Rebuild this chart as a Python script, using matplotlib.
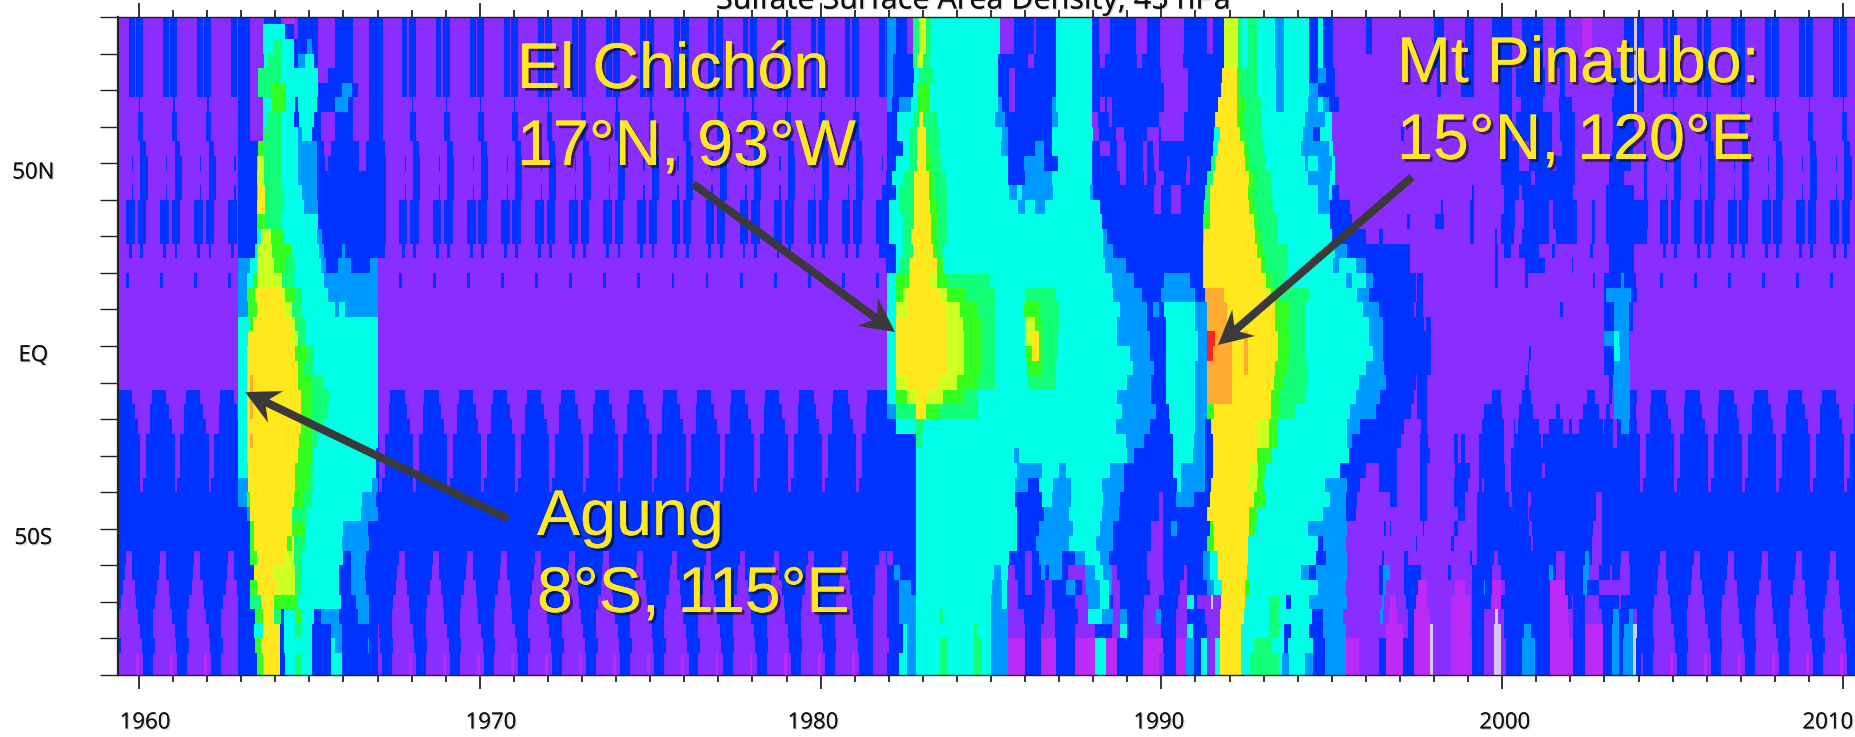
import numpy as np
import matplotlib
matplotlib.use("Agg")
import matplotlib.pyplot as plt
from matplotlib.colors import ListedColormap, BoundaryNorm
from matplotlib.patches import Polygon
from matplotlib.transforms import IdentityTransform
import matplotlib.patheffects as pe

V, B, A, C, S, G, L, Y, O, R, M, W = range(12)
LEVEL_COLORS = ["#8A2EFF", "#0033FF", "#0099FF", "#00FFE6", "#14FF78", "#33FF22",
                "#CCFF22", "#FFE81E", "#FFAA30", "#FF2222", "#BB2BF5", "#D8C8F0"]

YEAR_TICKS = list(range(1960, 2011))
YEAR_LABELS = [1960, 1970, 1980, 1990, 2000, 2010]
YEAR_LABEL_X = [1960.18, 1970.33, 1979.78, 1989.93, 2000.08, 2009.56]
LAT_TICKS = list(range(-90, 91, 10))
LAT_LABELS = {50: "50N", 0: "EQ", -50: "50S"}
LAT_EDGES = [90] + list(range(88, -89, -4)) + [-90]

# Seasonal cycle read from quiet years: base level, then (start, end, level) in fractions of a year
NT1 = [(-.30, -.13, B), (-.08, .14, B)]
NT2 = [(-.22, -.15, B), (.04, .24, B)]
NT3 = [(-.37, -.13, B), (-.04, .22, B)]
ST1 = [(-.60, .13, V), (-.10, .02, M)]
SEASON = [(V, NT1)] * 6 + [
    (V, [(0, .05, B)]), (V, [(-.03, .14, B)]), (V, [(-.03, .14, B)]), (V, [(.06, .22, B)]),
    (V, NT2), (V, [(.04, .24, B)]), (V, NT2), (V, NT3), (V, NT3), (V, NT3),
    (V, [(-.30, -.20, B), (.04, .14, B)]), (V, []), (V, [(-.37, -.30, B)]),
    (V, []), (V, []), (V, []), (V, []), (V, []), (V, []), (V, []),
    (B, [(-.20, .38, V)]), (B, [(-.13, .33, V)]), (B, [(-.06, .35, V)]),
    (B, [(.06, .22, V)]), (B, [(.06, .22, V)]), (B, [(.06, .22, V)]), (B, [(.06, .14, V)]),
    (B, []), (B, []), (B, []), (B, []),
    (B, [(-.37, -.20, V)]), (B, [(-.40, -.20, V)]), (B, [(-.47, -.13, V)]), (B, [(-.55, -.10, V)]),
    (B, [(-.60, -.04, V)]), (B, [(-.60, .04, V)]), (B, [(-.55, .10, V)]), (B, ST1), (B, ST1),
]

# Runs per latitude row (north to south): edge, level, edge, level, ..., edge; years since 1900
AGUNG = [
 [62.91,B,63.27,V,63.67,B,64.16,V,64.27,M,64.6,V,64.65,B,65.24,V,65.73,B,66.28,V,66.75,B,67.15],
 [62.91,B,63.27,V,63.62,C,64.30,B,64.55,V,64.65,B,65.24,V,65.73,B,66.28,V,66.75,B,67.15],
 [62.91,B,63.27,V,63.62,C,63.96,S,64.16,C,64.55,B,64.9,A,65.09,B,65.24,V,65.73,B,66.28,V,66.75,B,67.15],
 [62.91,B,63.27,V,63.67,C,63.81,S,64.21,C,64.55,B,64.65,A,64.89,C,65.14,B,65.24,V,65.73,B,66.28,V,66.75,B,67.15],
 [62.91,B,63.27,V,63.52,S,64.16,C,65.24,V,65.53,B,66.28,V,66.75,B,67.15],
 [62.91,B,63.27,V,63.52,S,63.86,G,64.30,C,65.24,B,65.97,A,66.25,B,66.42,V,66.75,B,67.15],
 [62.91,B,63.27,V,63.62,C,63.91,G,64.30,C,64.60,B,64.65,C,65.19,B,65.77,A,66.12,B,66.28,V,66.75,B,67.15],
 [62.91,B,63.27,V,63.62,C,63.76,S,64.16,C,64.55,B,64.7,C,65.14,B,65.33,V,65.73,B,66.28,V,66.75,B,67.15],
 [62.91,B,63.27,V,63.62,S,64.21,C,64.65,A,64.79,C,65.09,B,65.33,V,65.73,B,66.3,V,66.75,B,67.15],
 [62.91,B,63.52,G,63.67,S,64.21,C,64.65,A,65.19,B,65.43,V,65.63,B,66.46,V,66.65,B,67.2],
 [62.91,B,63.47,C,63.52,L,63.67,S,64.21,C,64.65,A,65.19,B,65.45,V,65.53,B,66.46,V,66.66,B,67.25],
 [62.91,B,63.47,L,63.67,S,64.21,C,64.65,A,65.19,B,67.25],
 [62.91,B,63.47,G,63.52,Y,63.72,S,64.25,C,64.79,A,65.19,B,67.25],
 [62.91,B,63.47,Y,63.72,S,64.25,C,64.84,A,65.24,B,67.25],
 [62.91,B,63.47,G,63.72,S,64.21,C,65.24,B,67.25],
 [62.91,B,63.45,C,63.6,L,63.86,G,64.25,C,65.19,A,65.38,B,67.25],
 [62.91,B,63.40,C,63.52,L,63.91,G,64.45,C,65.28,A,65.43,B,65.97,A,66.05,B,67.2],
 [62.91,A,63.27,C,63.47,L,63.96,G,64.30,S,64.6,C,65.33,A,65.50,B,65.85,A,66.22,B,66.8,A,67.0],
 [62.91,A,63.18,C,63.32,G,63.47,L,64.21,S,64.55,C,65.43,A,67.0],
 [62.91,A,63.18,G,63.42,Y,64.21,L,64.30,G,64.6,S,64.75,C,65.53,A,67.0],
 [62.91,A,63.2,G,63.47,Y,64.25,L,64.5,S,64.75,C,65.77,A,65.87,C,66.05,A,67.0],
 [62.91,C,63.23,G,63.32,Y,64.45,L,64.6,S,64.89,C,67.0],
 [62.91,C,63.2,Y,64.5,L,64.65,S,64.89,C,67.0],
 [62.91,C,63.18,Y,64.6,G,64.94,S,65.14,C,67.0],
 [62.91,C,63.18,Y,64.65,G,64.84,S,65.14,C,67.0],
 [62.91,C,63.18,Y,63.27,O,63.32,Y,64.65,G,65.04,S,65.43,C,67.0],
 [62.91,C,63.18,Y,63.27,O,63.35,Y,64.75,G,65.04,S,65.58,C,67.0],
 [62.91,C,63.18,Y,63.27,O,63.35,Y,64.75,G,65.04,S,65.53,C,67.0],
 [62.91,C,63.18,Y,64.75,G,65.09,S,65.43,C,67.0],
 [62.91,C,63.18,Y,63.27,O,63.35,Y,64.7,G,65.04,S,65.19,C,67.0],
 [62.91,C,63.18,Y,64.65,G,65.04,S,65.14,C,66.96],
 [62.91,C,63.2,Y,64.6,G,64.99,S,65.14,C,66.95],
 [62.91,A,63.2,Y,64.6,G,64.94,S,65.14,C,66.85,A,67.0],
 [62.91,A,63.15,G,63.27,Y,64.55,G,64.84,S,65.09,C,66.56,A,66.95],
 [62.91,B,63.15,A,63.23,Y,64.5,S,64.94,C,66.51,A,67.0],
 [62.91,B,63.23,G,63.37,Y,64.5,G,64.89,C,66.02,A,66.71,B,67.0],
 [62.91,B,63.23,G,63.37,Y,64.35,G,64.5,Y,64.55,S,64.89,C,65.97,A,66.75,B,67.0],
 [62.91,B,63.27,G,63.47,Y,64.3,L,64.55,S,64.79,C,66.02,B,66.2,A,66.66,B,67.0],
 [62.91,B,63.37,Y,63.96,L,64.6,S,64.79,C,65.87,B,66.2,A,66.61,B,67.0],
 [62.91,B,63.27,G,63.47,Y,64.06,L,64.6,S,64.79,C,65.87,B,66.22,A,66.66,B,67.0],
 [62.91,B,63.27,S,63.57,Y,63.96,G,64.65,C,65.92,B,66.36,A,66.75,B,67.0],
 [62.91,B,63.42,G,63.62,Y,63.96,S,64.16,B,64.25,C,64.6,G,64.75,C,65.14,B,65.33,A,65.87,B,66.41,A,66.75,B,67.0],
 [62.91,B,63.37,C,63.62,Y,64.14,B,64.25,C,64.6,S,64.75,C,65.09,B,65.63,A,65.97,B,67.0],
 [62.91,B,63.42,G,63.57,Y,64.14,B,64.25,C,65.09,B,65.63,C,65.77,A,65.97,B,66.7,A,66.75,B,67.0],
 [62.91,B,63.45,G,63.62,Y,64.14,B,64.3,C,64.6,S,64.75,C,65.09,B,65.63,C,65.97,B,67.0],
 [62.91,B,63.45,G,63.62,Y,64.14,B,64.3,C,64.6,S,64.75,C,65.09,B,65.63,C,65.97,B,67.0],
]

_N0 = [81.97,A,82.21,B,82.55,V,82.70,S,82.89,L,83.09,S,83.23,C,85.24,V,85.66,B,86.24,V,86.34,B,86.92,C,87.94,B,88.16,V,88.48,B,89.25,V,89.59,B,89.95,V,90.66,B,91.34,V,91.51,B,91.83,L,92.26,S,92.36,C,92.55,S,92.80,C,93.33,A,93.57,C,94.35,B,94.59,C,94.74,B,95.03,V,96.0,B,96.15,V,96.39]
_S44 = [81.24,B,81.55,V,81.97,B,82.3,C,82.55,A,82.8,C,83.5,S,83.77,C,84.5,S,84.7,C,85.0,A,85.5,M,86.0,B,86.44,M,86.92,B,87.45,M,88.04,C,88.38,M,88.72,B,89.45,M,89.9,V,90.1,B,90.43,M,90.7,A,90.95,B,91.15,C,91.34,V,91.6,C,91.7,Y,92.35,C,92.6,S,93.45,C,93.55,A,93.75,C,94.2,A,94.45,B,94.8,A,95.42,M,95.8,V,96.39]
CHICHON_PINATUBO = [
 _N0, _N0, _N0,
 [81.97,A,82.12,B,82.70,S,82.84,L,83.0,S,83.2,C,85.22,B,86.10,V,86.25,B,86.92,C,87.94,B,88.2,V,88.33,B,89.3,V,89.42,B,89.95,V,90.62,B,91.83,L,92.26,S,92.36,C,92.55,S,92.8,C,93.33,A,93.57,C,94.35,B,94.59,C,94.74,B,95.03,V,96.39],
 [81.97,A,82.12,B,82.75,C,82.89,S,83.28,C,85.2,B,85.55,V,85.72,B,86.9,C,87.94,B,89.98,V,90.8,B,91.79,Y,92.21,G,92.31,S,92.85,C,93.38,A,93.57,C,94.35,B,94.59,A,94.84,B,95.1,V,96.39],
 [81.97,A,82.12,B,82.70,C,82.84,G,83.2,C,85.2,B,85.55,V,85.72,B,86.9,C,87.94,B,90.08,V,90.8,B,91.75,Y,92.2,G,92.3,S,92.85,C,93.38,A,93.57,C,94.35,A,94.6,B,95.1,V,96.39],
 [81.97,A,82.1,B,82.3,A,82.65,C,82.85,G,83.2,C,85.22,A,85.35,B,85.55,V,85.72,B,86.8,A,86.9,C,87.94,B,88.2,V,88.35,B,88.4,V,88.55,B,90.1,V,90.8,B,91.65,Y,92.2,G,92.45,S,92.9,C,93.38,A,93.57,C,94.3,A,94.6,C,94.75,A,94.9,B,95.2,V,96.39],
 [81.97,B,82.25,C,82.7,S,82.87,Y,83.0,S,83.4,C,85.13,A,85.4,B,86.8,A,86.95,C,87.94,V,88.14,B,88.45,V,88.55,B,89.9,V,90.66,B,91.6,Y,92.2,G,92.4,S,92.95,C,94.2,A,94.8,C,95.0,V,96.39],
 [81.97,B,82.25,C,82.6,S,82.85,Y,83.09,S,83.5,C,85.35,A,85.5,B,86.8,C,87.98,V,88.15,B,88.68,V,88.9,B,89.6,V,89.9,B,89.98,V,90.66,B,91.55,C,91.7,Y,92.3,G,92.45,S,92.95,C,94.15,A,94.45,B,94.65,C,95.0,V,96.39],
 [81.97,B,82.4,C,82.6,S,82.85,Y,83.09,G,83.2,S,83.5,C,85.3,A,85.5,B,86.3,A,86.55,B,86.8,C,87.95,B,88.2,V,88.5,B,88.7,V,88.95,B,89.45,V,89.6,B,89.75,V,89.9,B,91.5,C,91.65,Y,92.4,G,92.55,S,93.0,C,94.1,A,94.9,C,95.03,V,96.39],
 [81.97,B,82.2,C,82.6,S,82.85,Y,83.1,G,83.25,S,83.55,C,85.5,B,85.95,A,86.55,B,86.95,C,87.95,B,88.72,V,88.95,B,89.45,V,89.6,B,89.8,V,89.9,B,90.75,V,90.85,B,91.45,S,91.6,Y,92.45,G,92.6,S,93.1,C,94.2,A,94.3,C,94.6,A,95.0,C,95.1,V,96.39],
 [81.9,B,82.1,C,82.4,S,82.75,Y,83.15,G,83.3,S,83.65,C,85.5,B,86.0,A,86.8,C,87.95,B,88.8,V,88.95,B,89.5,V,89.6,B,89.85,V,90.1,B,90.7,V,90.85,B,91.35,S,91.5,Y,92.5,L,92.6,G,92.75,S,93.2,C,94.3,A,94.95,C,95.1,V,96.39],
 [81.85,B,82.2,C,82.3,S,82.75,Y,83.15,G,83.35,S,83.7,C,85.55,A,85.75,C,85.9,A,86.85,C,87.9,A,88.0,B,89.8,V,89.98,B,90.3,V,90.6,B,91.3,S,91.4,Y,92.55,G,92.7,S,93.25,C,94.6,A,94.9,C,95.0,B,95.2,V,96.39],
 [81.8,B,82.0,C,82.35,S,82.75,Y,83.2,G,83.4,S,83.7,C,85.8,A,86.0,C,86.3,A,86.6,C,88.2,B,89.8,V,89.98,B,90.3,V,90.6,B,91.25,S,91.4,Y,92.6,G,92.75,S,93.3,C,94.6,A,94.95,B,95.55,V,96.39],
 [81.85,B,82.0,C,82.4,S,82.75,Y,83.25,G,83.45,S,83.7,C,88.25,B,91.2,G,91.4,Y,92.7,G,92.85,S,93.4,C,94.95,B,95.6,V,96.39],
 [81.85,B,82.0,C,82.4,S,82.65,Y,83.25,G,83.45,S,83.75,C,88.3,A,88.4,B,91.2,C,91.25,Y,92.75,G,92.9,S,93.4,C,95.0,B,96.0,V,96.39],
 [81.8,B,82.2,C,82.4,S,82.7,Y,83.3,G,83.45,S,83.6,C,88.3,A,88.6,B,91.2,Y,92.8,G,93.0,S,93.7,C,95.1,A,95.45,B,96.39],
 [81.9,B,82.2,C,82.3,S,82.6,Y,83.4,G,83.6,C,88.35,A,88.95,B,91.2,Y,92.9,G,93.05,S,93.7,C,95.05,A,95.2,C,95.7,A,96.0,B,96.39],
 [81.97,C,82.2,G,82.6,Y,83.2,L,83.4,G,83.7,S,84.95,C,88.55,A,89.2,B,90.1,A,90.85,B,91.2,Y,93.0,L,93.1,G,93.25,S,93.65,C,95.4,A,95.6,C,96.0,A,96.2,B,96.39],
 [81.97,C,82.21,G,82.4,L,82.55,Y,83.48,L,83.7,G,84.25,S,85.13,C,86.0,S,86.92,C,88.6,A,89.4,B,90.0,A,91.0,B,91.3,O,91.83,Y,93.1,L,93.2,G,93.45,S,94.35,C,95.75,A,96.1,B,96.39],
 [81.97,C,82.21,L,82.55,Y,83.67,L,84.1,G,84.6,S,85.13,C,85.95,G,86.4,S,87.0,C,88.8,A,89.6,B,89.75,A,89.9,B,90.1,C,91.0,A,91.33,O,91.9,Y,93.35,G,93.75,S,94.2,C,95.9,A,96.39],
 [81.97,C,82.21,Y,83.77,L,84.16,G,84.7,S,85.13,C,86.0,L,86.3,G,86.5,S,87.0,C,88.72,A,89.59,B,90.12,C,91.0,A,91.34,O,91.9,Y,93.35,G,93.7,S,94.25,C,96.1,A,96.39],
 [81.97,C,82.21,Y,83.77,L,84.2,G,84.7,S,85.13,C,86.0,L,86.2,Y,86.4,G,86.5,S,86.95,C,88.72,A,89.65,B,90.12,C,91.1,A,91.35,R,91.6,O,92.1,Y,92.4,O,92.55,Y,93.4,G,93.75,S,94.25,C,96.1,A,96.39],
 [81.97,C,82.21,Y,83.77,L,84.2,G,84.7,S,85.13,C,86.0,G,86.2,Y,86.4,G,86.5,S,86.95,C,89.1,A,89.65,B,90.12,C,91.1,A,91.35,R,91.5,O,92.1,Y,92.4,O,92.55,Y,93.4,G,93.75,S,94.25,C,96.2,A,96.39],
 [81.97,C,82.21,Y,83.75,L,84.2,G,84.7,S,85.13,C,86.05,G,86.5,S,86.9,C,89.15,A,89.8,B,90.12,C,91.0,A,91.35,O,92.1,Y,92.4,O,92.55,Y,93.35,G,93.7,S,94.3,C,96.0,A,96.39],
 [81.97,C,82.21,L,82.5,Y,83.5,L,84.0,G,84.6,S,85.13,C,86.1,S,86.9,C,89.0,A,89.7,B,90.12,C,91.0,A,91.35,O,92.1,Y,93.3,G,93.6,S,94.3,C,95.8,A,96.39],
 [81.6,B,81.97,C,82.21,G,82.55,L,82.84,Y,83.13,L,83.57,G,84.2,S,84.64,C,88.72,A,89.7,B,90.12,C,91.0,A,91.35,O,92.1,Y,93.2,G,93.45,S,94.2,C,95.7,A,96.39],
 [81.7,B,81.97,A,82.21,S,82.8,Y,83.09,G,83.48,S,84.64,C,88.85,A,89.85,B,90.2,C,91.0,A,91.34,G,91.54,Y,93.2,G,93.45,S,93.9,C,95.55,A,96.3,B,96.39],
 [81.6,B,82.21,C,82.8,S,83.0,C,88.65,A,89.65,B,90.27,C,91.0,A,91.3,B,91.45,Y,92.8,L,93.15,G,93.4,C,95.45,A,95.85,B,96.39],
 [81.24,B,82.8,S,82.97,C,88.95,A,89.5,B,90.35,C,90.95,A,91.3,B,91.5,Y,92.8,L,93.15,G,93.4,C,95.45,A,95.6,B,96.39],
 [81.24,B,82.8,C,85.65,A,85.85,C,89.0,A,89.2,B,90.33,C,90.9,A,91.3,B,91.5,Y,92.8,G,93.2,C,95.5,B,96.39],
 [81.24,B,82.8,C,85.75,A,86.5,C,87.0,A,87.2,C,88.5,A,88.9,B,90.33,C,90.6,A,91.3,B,91.5,Y,92.6,L,92.85,G,93.1,C,95.25,B,96.0,V,96.39],
 [81.24,B,82.8,C,85.7,A,86.1,B,86.4,C,86.85,A,87.35,C,88.25,A,88.9,B,90.45,C,90.6,A,91.3,B,91.45,Y,92.5,L,92.8,G,93.0,C,94.8,A,95.45,B,95.85,V,96.39],
 [81.24,B,82.8,C,85.7,B,86.5,C,86.8,A,87.35,C,88.3,A,88.8,B,89.9,V,90.05,B,90.4,A,90.95,B,91.4,Y,92.7,G,93.1,C,94.95,A,95.4,B,95.75,V,96.39],
 [81.24,B,82.8,C,85.75,B,86.55,A,87.3,C,88.25,A,88.75,B,89.9,V,90.05,B,91.35,Y,92.6,G,92.8,C,94.75,A,95.4,B,95.7,V,96.39],
 [81.24,B,82.8,C,85.75,B,86.4,A,87.4,C,88.2,A,88.6,B,89.7,V,90.05,B,90.3,A,90.45,B,91.4,G,91.5,Y,92.6,G,92.75,C,94.3,A,95.45,V,96.39],
 [81.24,B,82.8,C,85.75,B,86.35,A,87.3,C,88.1,A,88.6,B,89.7,V,90.05,B,91.35,G,91.55,Y,92.55,C,94.6,B,94.75,A,95.4,V,96.39],
 [81.24,B,81.7,V,81.9,B,81.97,V,82.12,B,82.8,C,85.55,B,86.0,V,86.2,B,86.4,A,87.1,B,87.45,A,87.75,C,88.2,A,88.45,B,89.6,V,90.05,B,91.2,A,91.4,C,91.65,Y,92.55,C,94.55,B,94.85,A,95.45,V,96.39],
 [81.24,B,81.6,V,81.97,B,82.15,A,82.32,B,82.8,C,85.1,A,85.3,C,85.5,V,85.7,B,86.0,V,86.2,B,86.45,A,86.6,B,86.7,A,87.1,B,87.25,V,87.75,A,88.05,C,88.3,A,88.55,V,88.7,B,89.6,V,90.05,B,90.66,V,90.75,B,91.2,A,91.4,C,91.65,Y,92.5,C,94.1,A,94.35,B,94.55,A,95.45,V,96.39],
 [81.24,B,81.6,V,81.97,B,82.3,A,82.65,B,82.8,C,85.03,A,85.32,C,85.47,V,85.81,B,86.0,V,86.2,B,86.6,V,86.78,B,87.2,A,87.46,B,87.65,V,87.8,A,88.2,C,88.45,A,88.55,V,88.8,B,89.65,V,90.1,B,90.55,V,90.75,B,91.34,A,91.54,C,91.8,Y,92.45,G,92.6,C,94.6,A,95.4,V,96.39],
 [81.24,B,81.55,V,81.97,B,82.3,A,82.8,C,85.0,A,85.32,C,85.47,V,85.81,B,86.6,V,86.8,B,87.45,V,87.85,A,88.2,C,88.45,B,88.6,V,88.8,B,89.5,V,89.9,B,90.5,V,90.75,C,90.95,B,91.05,V,91.45,W,91.52,V,91.75,Y,92.45,C,93.15,S,93.45,C,93.65,B,93.8,C,94.35,A,95.45,V,96.39],
 [81.24,B,81.55,V,81.97,B,82.3,A,82.8,C,83.5,S,83.6,C,85.0,A,85.5,V,85.95,B,86.55,V,86.87,B,87.55,V,87.85,C,88.25,A,88.6,V,88.8,A,89.0,B,89.45,V,89.85,A,90.0,B,90.4,V,90.75,B,91.3,V,91.7,Y,92.4,C,93.15,S,93.45,C,94.4,B,94.74,A,95.35,V,96.39],
 [81.24,B,81.55,V,81.97,B,82.4,C,82.55,A,82.8,C,84.5,S,84.6,C,85.0,A,85.5,V,86.0,B,86.44,V,86.87,B,87.45,V,88.04,B,88.55,V,88.8,C,89.0,B,89.45,V,90.02,B,90.4,V,90.75,C,90.9,B,91.35,V,91.7,Y,92.35,C,93.15,S,93.45,C,93.6,B,93.8,C,94.35,B,94.74,A,95.4,V,96.39],
 [81.24,B,81.55,V,82.0,B,82.4,C,82.55,A,82.8,C,83.5,S,83.77,C,84.5,S,84.7,C,85.0,A,85.5,M,86.0,B,86.44,M,86.92,B,87.45,M,88.04,C,88.38,M,88.72,B,89.45,M,90.05,B,90.43,M,90.7,A,90.95,B,91.15,C,91.34,V,91.6,C,91.7,Y,92.35,C,92.7,S,93.2,C,93.6,B,93.7,C,94.45,B,94.8,A,95.42,M,95.8,V,96.39],
 _S44, _S44,
]

_L0 = [96.39,V,98.0,B,98.3,V,98.93,B,99.17,V,99.7,B,100.3,V,100.58,B,101.2,V,101.6,B,101.85,V,102.33,M,102.63,V,103.6,B,103.89,W,103.94,B,104.18]
_L3 = [96.39,V,98.0,B,98.3,V,98.93,B,99.17,V,99.7,B,100.3,V,100.58,B,101.2,V,101.6,B,101.85,V,103.6,B,103.89,W,103.94,B,104.18]
_L4 = [96.39,V,98.1,B,98.2,V,98.8,B,99.17,V,99.9,B,100.3,V,100.4,B,101.27,V,101.7,B,101.85,V,103.3,B,103.89,W,103.94,B,104.18]
_L43 = [96.39,B,96.6,M,97.08,B,97.4,M,97.86,W,97.96,V,98.49,M,99.12,B,99.46,V,99.75,W,99.95,V,100.14,B,100.58,A,100.97,B,101.41,M,102.09,B,102.43,M,102.97,B,103.22,A,103.4,B,103.55,A,103.84,W,103.91,B,104.1]
LATE_YEARS = [
 _L0, _L0, _L0, _L3, _L4, _L4,
 [96.39,V,99.9,B,100.3,V,100.55,B,101.2,V,101.65,B,102.04,V,103.21,B,103.89,W,103.94,B,104.18],
 [96.39,V,99.9,B,100.3,V,100.4,B,101.46,V,101.7,B,102.14,V,103.26,B,103.89,V,104.18],
 [96.39,V,97.03,B,97.13,V,99.9,B,100.3,V,100.4,B,101.46,V,101.7,B,102.14,V,103.26,B,103.9,V,104.18],
 [96.39,V,99.95,B,100.5,V,100.78,B,101.46,V,101.75,B,102.14,V,103.21,B,103.84,V,104.18],
 [96.39,V,99.95,B,100.5,V,100.78,B,101.46,V,101.6,B,102.14,V,103.11,B,103.8,V,104.18],
 [96.39,V,99.95,B,100.83,V,100.97,B,102.14,V,103.11,B,103.6,V,104.18],
 [96.39,V,99.12,B,99.17,V,100.05,B,100.49,V,100.58,B,102.09,V,103.06,B,103.89,V,104.18],
 [96.39,V,98.2,B,98.25,V,99.03,B,99.17,V,100.05,B,100.39,V,100.63,B,101.36,V,101.5,B,102.19,V,102.63,B,102.72,V,103.06,B,104.28],
 [96.39,V,97.2,B,97.3,V,98.05,B,98.3,V,99.03,B,99.17,V,99.95,B,100.39,V,100.63,B,101.36,V,101.5,B,102.19,V,102.63,B,102.72,V,103.06,B,104.28],
 [96.39,B,96.5,V,99.03,B,99.17,V,99.8,B,99.85,V,99.95,B,100.35,V,100.58,B,101.36,V,101.6,B,102.19,V,102.63,B,102.72,V,103.06,B,104.24],
 [96.39,B,97.28,V,99.8,B,99.88,V,100.05,B,100.25,V,100.49,B,101.07,V,101.46,B,101.56,V,102.58,B,102.67,V,103.11,B,103.89,V,104.18],
 [96.39,B,97.28,V,99.8,B,99.88,V,100.68,B,101.27,V,102.04,B,102.09,V,103.11,B,103.89,V,104.18],
 [96.39,B,97.47,V,97.5,B,97.65,V,99.8,B,99.88,V,100.68,B,100.73,V,102.67,B,102.72,V,103.02,B,103.5,A,103.6,B,103.9,V,104.18],
 [96.39,B,97.47,V,97.5,B,97.65,V,103.02,B,103.06,A,103.8,B,103.94,V,104.18],
 [96.39,B,97.42,V,97.47,B,97.65,V,101.7,B,101.8,V,103.02,B,103.31,A,103.7,B,103.84,V,104.18],
 [96.39,A,96.5,B,97.71,V,97.75,B,97.9,V,103.02,B,103.31,A,103.7,B,103.84,V,104.18],
 [96.39,A,96.5,B,97.9,V,103.02,A,103.31,C,103.4,A,103.7,V,104.18],
 [96.39,A,96.5,B,97.9,V,100.78,B,100.83,V,103.02,B,103.31,C,103.45,A,103.7,V,104.18],
 [96.39,A,96.55,B,97.9,V,100.73,B,100.8,V,103.02,B,103.31,A,103.75,V,104.18],
 [96.39,A,96.6,B,97.45,V,97.5,B,97.8,V,100.68,B,100.78,V,103.11,B,103.26,A,103.75,V,104.18],
 [96.39,A,96.4,B,97.4,V,97.5,B,97.8,V,99.7,B,99.95,V,100.58,B,100.83,V,102.48,B,102.72,V,103.11,B,103.2,V,103.31,A,103.75,B,103.94],
 [96.39,B,97.32,V,97.5,B,97.8,V,99.46,B,100.0,V,100.49,B,100.92,V,101.6,B,101.7,V,102.38,B,102.82,V,103.06,B,103.16,V,103.3,A,103.75,B,103.9],
 [96.39,B,97.13,V,97.62,B,97.8,V,99.4,B,100.05,V,100.34,B,100.39,V,100.44,B,101.07,V,101.36,B,101.8,V,101.95,B,102.04,V,102.24,B,102.97,V,103.02,B,103.26,V,103.36,B,103.5,A,103.7,B,103.9],
 [96.39,B,97.03,V,97.6,B,97.85,V,98.59,B,98.69,V,98.78,B,98.93,V,99.32,B,100.05,V,100.34,B,101.12,V,101.22,B,103.26,V,103.36,B,103.99],
 [96.39,B,96.93,V,97.57,B,97.86,V,98.59,B,98.69,V,98.78,B,98.93,V,99.32,B,100.05,V,100.24,B,103.99],
 [96.39,B,96.93,V,97.57,B,97.81,V,98.64,B,99.03,V,99.32,B,100.1,V,100.24,B,101.17,V,101.27,B,103.99],
 [96.39,B,96.93,V,97.57,B,97.81,V,98.59,B,98.98,V,99.32,B,99.4,V,99.46,B,100.1,V,100.24,B,103.99],
 [96.39,V,96.69,B,96.93,V,97.57,B,97.81,V,98.59,B,98.93,V,99.27,B,100.2,V,100.3,B,100.73,V,100.83,B,102.77,V,102.92,B,104.0],
 [96.39,V,97.6,B,97.8,V,98.7,B,98.9,V,99.27,B,100.73,V,100.8,B,102.77,V,102.92,B,104.0],
 [96.39,V,96.55,B,96.6,V,96.69,B,96.75,V,97.66,B,97.7,V,98.59,B,98.69,V,99.27,B,100.78,V,100.87,B,102.67,V,102.92,B,104.0],
 [96.39,V,97.47,B,97.52,V,98.49,B,98.59,V,99.27,B,100.83,V,100.92,B,102.62,V,102.92,B,104.0],
 [96.39,V,96.45,B,96.55,V,97.13,B,97.23,V,99.03,B,99.12,V,99.27,B,99.75,V,99.88,B,101.6,V,101.85,B,102.43,A,102.53,B,102.63,V,102.92,B,103.5,V,103.7,B,104.0],
 [96.39,B,96.5,A,96.69,V,97.13,B,97.62,V,98.43,B,98.52,V,99.12,B,99.7,V,99.95,B,101.36,A,101.5,B,101.6,V,101.85,B,102.38,A,102.53,V,102.82,B,103.16,V,103.21,B,103.45,V,103.74,B,104.0],
 [96.39,B,96.5,A,96.6,V,97.13,B,97.55,M,97.81,V,98.64,M,98.9,V,99.12,B,99.46,A,99.52,B,99.7,M,99.95,V,100.1,B,101.41,M,101.85,B,102.38,A,102.5,B,102.82,V,103.45,V,103.74,B,104.0],
 [96.39,V,96.45,A,96.55,V,96.69,M,96.88,V,97.18,B,97.47,M,97.81,V,98.49,M,99.03,V,99.12,B,99.66,M,99.95,B,101.41,M,101.9,B,102.04,V,102.09,B,102.43,V,102.82,B,103.4,V,103.5,B,104.0],
 [96.39,V,96.41,A,96.5,V,96.65,M,96.93,V,97.23,B,97.42,M,97.86,V,98.49,M,99.03,V,99.12,B,99.46,V,99.8,W,99.88,V,100.05,B,101.41,M,101.9,V,102.09,B,102.43,V,102.92,B,103.26,A,103.4,B,103.7,A,103.84,V,103.94,B,104.1],
 [96.39,V,96.6,M,97.08,V,97.23,B,97.42,M,97.86,W,97.96,V,98.49,M,99.03,V,99.12,B,99.46,V,99.75,W,99.95,V,100.05,B,100.63,A,100.83,B,101.41,M,101.95,V,102.09,B,102.43,M,102.97,B,103.22,A,103.4,B,103.6,A,103.84,W,103.94,B,104.1],
 _L43, _L43, _L43,
]

ANNOTATION_LINES = [("El Chichón", 517, 88), ("17°N, 93°W", 517, 165),
                    ("Mt Pinatubo:", 1397, 82), ("15°N, 120°E", 1397, 159),
                    ("Agung", 537, 535), ("8°S, 115°E", 537, 612)]
ARROWS = [((1970.83, -47.3), (1963.11, -12.6)),
          ((1976.26, 44.3), (1982.18, 3.84)),
          ((1997.35, 46.2), (1991.66, 0.28))]

W_PX, H_PX = 1856, 737
fig = plt.figure(figsize=(W_PX / 100, H_PX / 100), dpi=100)
ax = fig.add_axes([118 / W_PX, 1 - 675 / H_PX, 1 - 118 / W_PX, 658 / H_PX])

STEP = 1 / 24
x_edges = 1959 + STEP * np.arange(52 * 24 + 1)
grid = np.zeros((len(SEASON), len(x_edges) - 1), dtype=int)
centers = 0.5 * (x_edges[:-1] + x_edges[1:])

for r, (base, runs) in enumerate(SEASON):
    grid[r, :] = base
    for p0, p1, lev in runs:
        grid[r, np.mod(centers - p0, 1.0) < (p1 - p0)] = lev

for block in (AGUNG, CHICHON_PINATUBO, LATE_YEARS):
    for r, seq in enumerate(block):
        for i in range(0, len(seq) - 2, 2):
            mask = (centers >= 1900 + seq[i]) & (centers < 1900 + seq[i + 2])
            grid[r, mask] = seq[i + 1]

cmap = ListedColormap(LEVEL_COLORS)
norm = BoundaryNorm(np.arange(-0.5, 12), cmap.N)
ax.pcolormesh(x_edges, LAT_EDGES, grid, cmap=cmap, norm=norm, shading="flat", rasterized=True)
ax.set_xlim(1960 + (118 - 139) / 34.08, 1960 + (1856 - 139) / 34.08)
ax.set_ylim(-90, 90)

ax.spines["right"].set_visible(False)
ax.spines["left"].set_linewidth(1.6)
ax.spines["top"].set_linewidth(1.0)
ax.spines["bottom"].set_linewidth(1.0)
for s in ax.spines.values():
    s.set_color("#222222")

major = [y for y in YEAR_TICKS if y in YEAR_LABELS]
minor = [y for y in YEAR_TICKS if y not in YEAR_LABELS]
ax.set_xticks(major)
ax.set_xticks(minor, minor=True)
ax.set_xticklabels([])
ax.tick_params(axis="x", which="major", top=True, bottom=True, length=10, width=1.4, color="#333333")
ax.tick_params(axis="x", which="minor", top=True, bottom=True, length=5, width=1.4, color="#333333")
ax.set_yticks(LAT_TICKS)
ax.set_yticklabels([])
ax.tick_params(axis="y", length=13, width=1.0, color="#222222")

soft = [pe.withSimplePatchShadow(offset=(1, -1), shadow_rgbFace="#666666", alpha=0.25), pe.Normal()]
for y, xpos in zip(YEAR_LABELS, YEAR_LABEL_X):
    ax.annotate(str(y), xy=(xpos, 0), xycoords=("data", "axes fraction"), xytext=(0, -34.5),
                textcoords="offset points", ha="center", va="center", fontsize=16,
                family="Open Sans", color="#111111", path_effects=soft, annotation_clip=False)
for lat, lab in LAT_LABELS.items():
    ax.annotate(lab, xy=(0, lat), xycoords=("axes fraction", "data"), xytext=(-61, -7),
                textcoords="offset points", ha="center", va="center", fontsize=16,
                family="Open Sans", color="#111111", path_effects=soft)

fig.text(973 / W_PX, 1 - 8.5 / H_PX, "Sulfate Surface Area Density, 45 hPa", ha="center", va="baseline",
         fontsize=22, family="Open Sans", color="#111111", path_effects=soft)

fig.canvas.draw()
for tail, head in ARROWS:
    t = ax.transData.transform(tail)
    h = ax.transData.transform(head)
    d = (t - h) / np.hypot(*(t - h))
    n = np.array([-d[1], d[0]])
    hw, sw = 17.5, 4.0
    pts = [h, h + 34 * d + hw * n, h + 25 * d + sw * n, t + sw * n, t - sw * n,
           h + 25 * d - sw * n, h + 34 * d - hw * n]
    ax.add_patch(Polygon(pts, closed=True, facecolor="#3A3A3A", edgecolor="none",
                         transform=IdentityTransform(), zorder=5, clip_on=False))

shadow = [pe.withSimplePatchShadow(offset=(2, -2), shadow_rgbFace="#000000", alpha=0.55), pe.Normal()]
for text, xp, yp in ANNOTATION_LINES:
    fig.text(xp / W_PX, 1 - yp / H_PX, text, ha="left", va="baseline", fontsize=46.5,
             family="Liberation Sans", color="#FFE81E", path_effects=shadow, zorder=6)

fig.savefig("out.png", dpi=100)
